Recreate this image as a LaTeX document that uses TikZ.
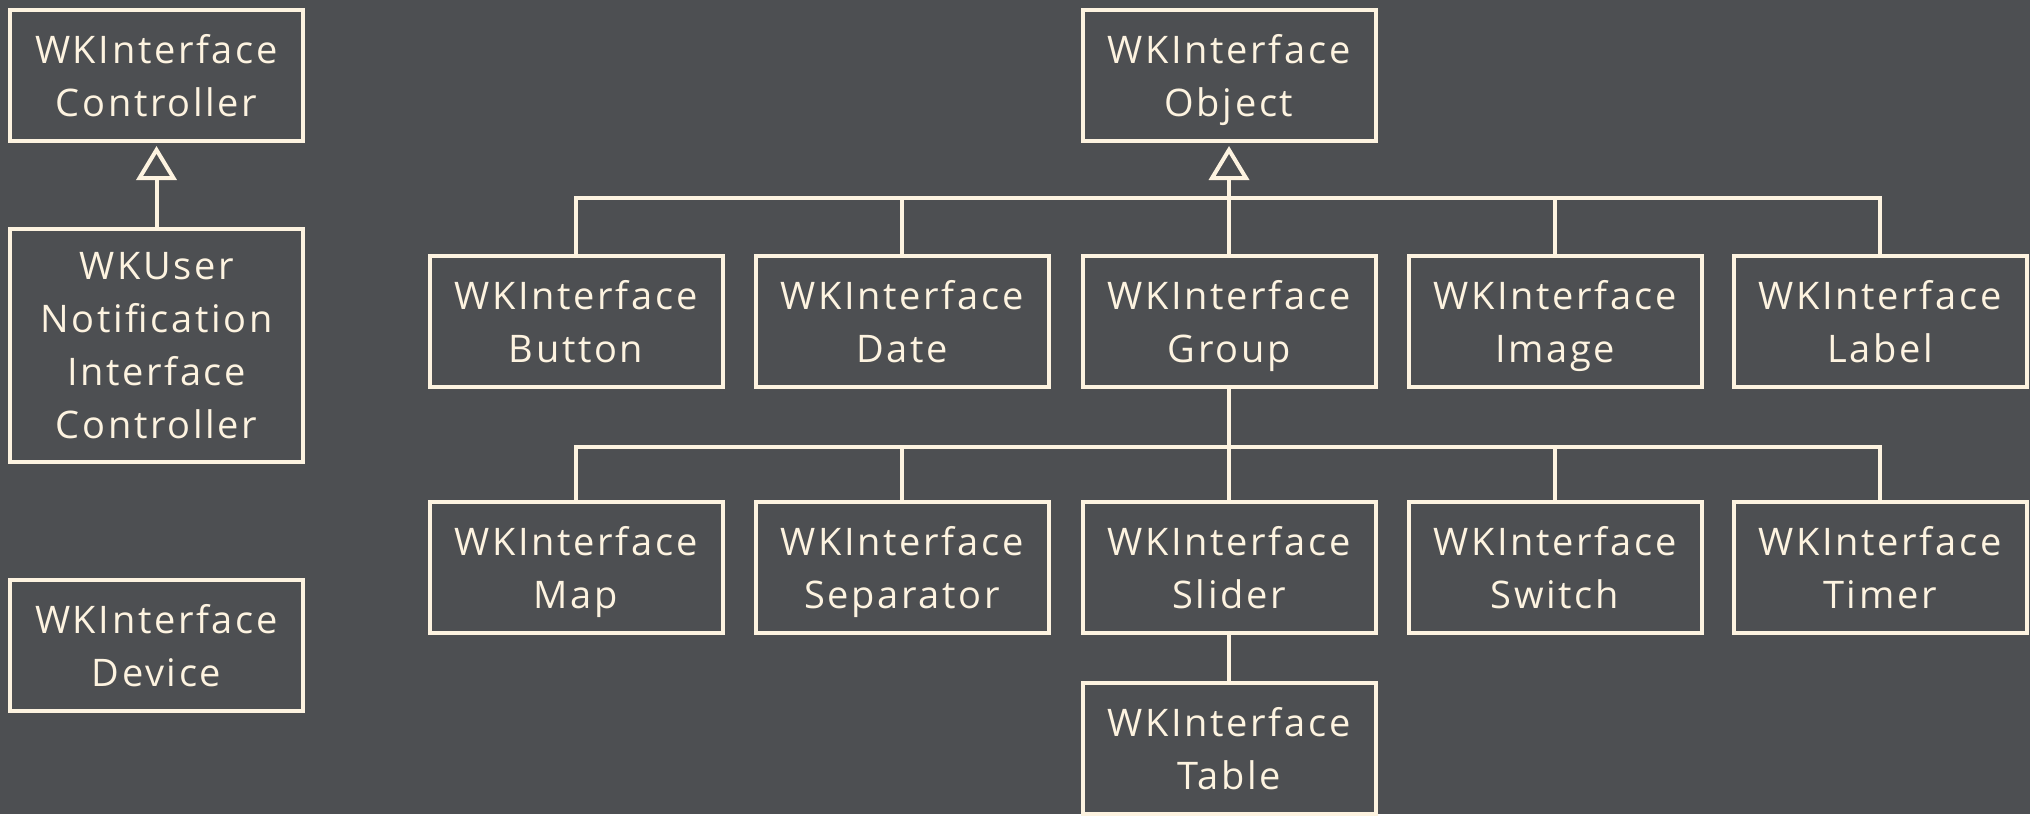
\documentclass[tikz,border=0pt]{standalone}
\usepackage{fontspec}
\setmainfont{Open Sans}[LetterSpace=7]
\usetikzlibrary{arrows.meta}
\definecolor{bgcol}{RGB}{77,79,82}
\definecolor{linecol}{RGB}{253,243,224}
\begin{document}
\begin{tikzpicture}[x=0.5pt, y=-0.5pt,
    cls/.style={draw=linecol, line width=2pt, text=linecol, align=center, inner sep=0pt,
      minimum width=146.5pt, minimum height=65.5pt, font=\fontsize{19}{26.5}\selectfont,
      text depth=-5pt},
    link/.style={draw=linecol, line width=2pt},
    inherit/.style={link, -{Triangle[open, length=17pt, width=20pt]}, shorten >=1.5pt}]
    \fill[bgcol] (0,0) rectangle (2030,814);
    \node[cls] (controller) at (156.5, 75.5) {WKInterface\\Controller};
    \node[cls, minimum height=116.5pt] (notification) at (156.5, 345.5) {WKUser\\Notification\\Interface\\Controller};
    \node[cls] (device) at (156.5, 645.5) {WKInterface\\Device};
    \node[cls] (object) at (1229, 75.5) {WKInterface\\Object};
    \node[cls] (button) at (576, 321.5) {WKInterface\\Button};
    \node[cls] (date) at (902, 321.5) {WKInterface\\Date};
    \node[cls] (group) at (1229, 321.5) {WKInterface\\Group};
    \node[cls] (image) at (1555, 321.5) {WKInterface\\Image};
    \node[cls] (label) at (1880, 321.5) {WKInterface\\Label};
    \node[cls] (map) at (576, 567.5) {WKInterface\\Map};
    \node[cls] (separator) at (902, 567.5) {WKInterface\\Separator};
    \node[cls] (slider) at (1229, 567.5) {WKInterface\\Slider};
    \node[cls] (switch) at (1555, 567.5) {WKInterface\\Switch};
    \node[cls] (timer) at (1880, 567.5) {WKInterface\\Timer};
    \node[cls] (table) at (1229, 748.5) {WKInterface\\Table};
    \coordinate (bar1) at (1229, 198);
    \coordinate (bar2) at (1229, 447);
    \draw[inherit] (notification.north) -- (controller.south);
    \draw[inherit] (group.north) -- (object.south);
    \draw[link] (button.north) |- (bar1) -| (label.north);
    \draw[link] (date.north) -- (date.north |- bar1);
    \draw[link] (image.north) -- (image.north |- bar1);
    \draw[link] (group.south) -- (slider.north);
    \draw[link] (map.north) |- (bar2) -| (timer.north);
    \draw[link] (separator.north) -- (separator.north |- bar2);
    \draw[link] (switch.north) -- (switch.north |- bar2);
    \draw[link] (slider.south) -- (table.north);
\end{tikzpicture}
\end{document}
